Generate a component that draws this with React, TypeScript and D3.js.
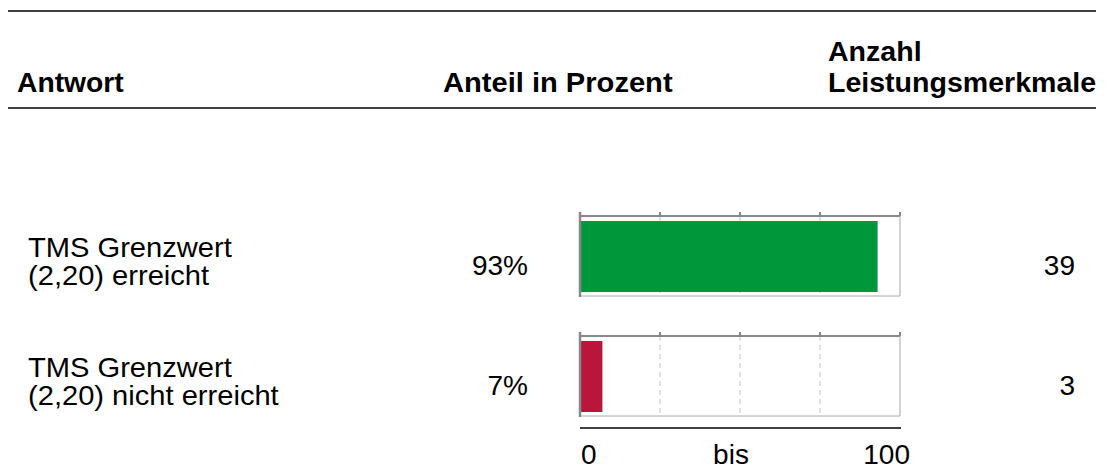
import React from "react";
import * as d3 from "d3";

const categories = ["TMS Grenzwert (2,20) erreicht", "TMS Grenzwert (2,20) nicht erreicht"];
const labelLines = [
  ["TMS Grenzwert", "(2,20) erreicht"],
  ["TMS Grenzwert", "(2,20) nicht erreicht"],
];
const percentValues = [93, 7];
const counts = [39, 3];
const barColors = ["#00963a", "#ba163c"];
const gridTicks = [0, 25, 50, 75, 100];
const axisLabels = ["0", "bis", "100"];
const headers = ["Antwort", "Anteil in Prozent", "Anzahl", "Leistungsmerkmale"];

const W = 1108;
const H = 469;
const FONT = "'Liberation Sans', Arial, Helvetica, sans-serif";

function T({ x, y, anchor = "start", bold = false, sx = 1.04, children }: any) {
  return (
    <text
      transform={`translate(${x},${y}) scale(${sx},1)`}
      textAnchor={anchor}
      fontFamily={FONT}
      fontSize={28}
      fontWeight={bold ? 700 : 400}
      fill="#000"
    >
      {children}
    </text>
  );
}

export default function App() {
  const x = d3.scaleLinear().domain([0, 100]).range([580, 900]);
  const row = d3.scaleBand().domain(categories).range([176, 416]);

  return (
    <svg
      width={W}
      height={H}
      style={{ position: "absolute", left: 0, top: 0, display: "block", background: "#fff" }}
    >
      <line x1={8} x2={1096} y1={11} y2={11} stroke="#000" strokeWidth={1.5} />
      <line x1={8} x2={1096} y1={108} y2={108} stroke="#000" strokeWidth={1.5} />
      <T x={17} y={92} bold sx={1.01}>{headers[0]}</T>
      <T x={443} y={92} bold sx={1.04}>{headers[1]}</T>
      <T x={828} y={61} bold sx={1.02}>{headers[2]}</T>
      <T x={828} y={92} bold sx={1.02}>{headers[3]}</T>

      {categories.map((c, i) => {
        const y0 = (row(c) as number) + 40;
        const y1 = y0 + 80;
        return (
          <g key={c}>
            <T x={28} y={y0 + 41}>{labelLines[i][0]}</T>
            <T x={28} y={y0 + 69}>{labelLines[i][1]}</T>
            <T x={528} y={y0 + 59} anchor="end" sx={1.0}>{`${percentValues[i]}%`}</T>
            <T x={1075} y={y0 + 59} anchor="end" sx={1.0}>{`${counts[i]}`}</T>

            {gridTicks.slice(1, -1).map((t) => (
              <line
                key={t}
                x1={x(t)}
                x2={x(t)}
                y1={y0}
                y2={y1}
                stroke="#c4c4c4"
                strokeWidth={1}
                strokeDasharray="5,4"
              />
            ))}
            <line x1={x(100)} x2={x(100)} y1={y0} y2={y1} stroke="#a8a8a8" strokeWidth={1} />
            <line x1={x(0)} x2={x(100)} y1={y1} y2={y1} stroke="#a8a8a8" strokeWidth={1} />
            <rect
              x={x(0)}
              y={y0 + 5}
              width={x(percentValues[i]) - x(0)}
              height={71}
              fill={barColors[i]}
            />
            <line x1={x(0)} x2={x(100)} y1={y0} y2={y0} stroke="#888" strokeWidth={2} />
            {gridTicks.map((t) => (
              <line key={t} x1={x(t)} x2={x(t)} y1={y0 - 4} y2={y0} stroke="#888" strokeWidth={2} />
            ))}
            <line x1={x(0)} x2={x(0)} y1={y0 - 4} y2={y1 + 1} stroke="#888" strokeWidth={2.5} />
          </g>
        );
      })}

      <line x1={x(0)} x2={x(100) + 1} y1={428} y2={428} stroke="#000" strokeWidth={1.5} />
      <T x={581} y={464} sx={1.0}>{axisLabels[0]}</T>
      <T x={731} y={464} anchor="middle" sx={1.0}>{axisLabels[1]}</T>
      <T x={910} y={464} anchor="end" sx={1.0}>{axisLabels[2]}</T>
    </svg>
  );
}
